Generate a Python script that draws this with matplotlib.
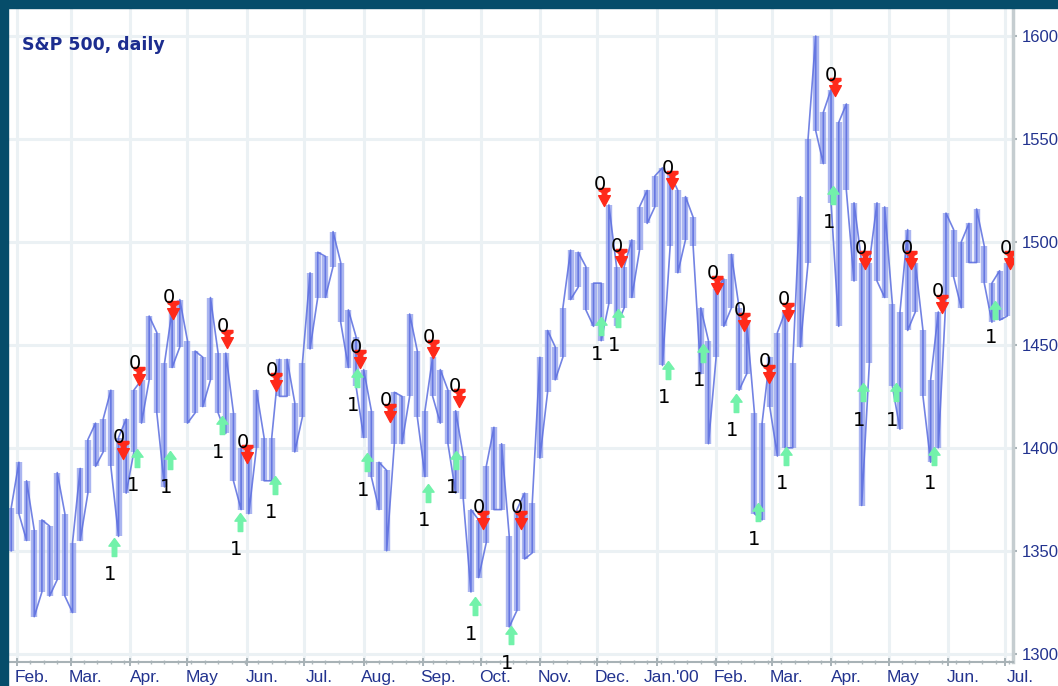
import matplotlib
matplotlib.use('Agg')
import matplotlib.pyplot as plt
import matplotlib.dates as mdates
import matplotlib.transforms as mtrans
from matplotlib.path import Path
from matplotlib.patches import Rectangle
import pandas as pd

# daily range of the S&P 500, sampled every 4 calendar days
bar_lows = [1350, 1368, 1355, 1318, 1330, 1328, 1336, 1328, 1320, 1355,
            1378, 1391, 1398, 1391, 1357, 1378, 1398, 1412, 1433, 1417,
            1381, 1439, 1449, 1412, 1417, 1420, 1433, 1417, 1407, 1384,
            1370, 1368, 1400, 1384, 1384, 1425, 1425, 1398, 1415, 1448,
            1473, 1473, 1488, 1461, 1439, 1430, 1405, 1386, 1370, 1350,
            1402, 1402, 1425, 1415, 1386, 1425, 1412, 1402, 1378, 1375,
            1330, 1337, 1354, 1370, 1370, 1313, 1321, 1346, 1349, 1395,
            1427, 1433, 1444, 1472, 1478, 1467, 1459, 1452, 1470, 1459,
            1468, 1473, 1496, 1509, 1517, 1440, 1498, 1485, 1501, 1498,
            1436, 1402, 1444, 1459, 1468, 1428, 1436, 1368, 1365, 1420,
            1396, 1400, 1400, 1449, 1490, 1554, 1538, 1519, 1459, 1525,
            1481, 1372, 1441, 1481, 1473, 1430, 1409, 1457, 1466, 1425,
            1393, 1400, 1473, 1483, 1468, 1490, 1490, 1480, 1461, 1462,
            1464]
bar_highs = [1371, 1393, 1384, 1360, 1365, 1362, 1388, 1368, 1354, 1390,
             1404, 1412, 1414, 1428, 1405, 1414, 1428, 1433, 1464, 1456,
             1441, 1467, 1472, 1452, 1447, 1444, 1473, 1446, 1446, 1417,
             1400, 1400, 1428, 1405, 1405, 1443, 1443, 1422, 1441, 1485,
             1495, 1493, 1505, 1490, 1467, 1454, 1438, 1418, 1393, 1389,
             1427, 1425, 1465, 1447, 1418, 1444, 1438, 1428, 1418, 1396,
             1370, 1365, 1391, 1410, 1402, 1357, 1370, 1378, 1373, 1444,
             1457, 1449, 1468, 1496, 1495, 1488, 1480, 1480, 1518, 1488,
             1488, 1501, 1517, 1525, 1532, 1536, 1533, 1525, 1522, 1512,
             1468, 1452, 1477, 1482, 1494, 1468, 1461, 1417, 1412, 1444,
             1456, 1466, 1441, 1522, 1550, 1600, 1563, 1574, 1558, 1567,
             1519, 1490, 1490, 1519, 1517, 1470, 1466, 1506, 1490, 1457,
             1433, 1466, 1514, 1506, 1500, 1509, 1516, 1498, 1480, 1486,
             1490]
bar_dates = pd.date_range('1999-01-29', periods=len(bar_lows), freq='4D')

# signals: days after 1 Feb 1999 and price level
sell_days = [55.4, 63.7, 81.5, 109.7, 120.1, 135.2, 179.1, 194.8, 217.2, 230.8,
             243.3, 263.2, 306.5, 315.4, 342.0, 365.5, 379.6, 392.7, 402.6, 427.2,
             442.8, 466.8, 483.0, 518.5]
sell_prices = [1399, 1435, 1467, 1453, 1397, 1432, 1443, 1417, 1448, 1424,
               1365, 1365, 1522, 1492, 1530, 1479, 1461, 1436, 1466, 1575,
               1491, 1491, 1470, 1491]
buy_days = [50.7, 62.7, 79.9, 107.0, 116.4, 134.7, 177.5, 182.8, 214.6, 229.2,
            239.1, 258.0, 305.0, 313.8, 340.0, 358.2, 375.5, 386.9, 401.6, 426.1,
            441.8, 459.0, 478.9, 510.7]
buy_prices = [1352, 1395, 1394, 1411, 1364, 1382, 1434, 1393, 1378, 1394,
              1323, 1309, 1459, 1463, 1438, 1446, 1422, 1369, 1396, 1523,
              1427, 1427, 1396, 1467]

month_labels = ['Feb.', 'Mar.', 'Apr.', 'May', 'Jun.', 'Jul.', 'Aug.', 'Sep.', 'Oct.',
                'Nov.', 'Dec.', "Jan.'00", 'Feb.', 'Mar.', 'Apr.', 'May', 'Jun.', 'Jul.']
month_starts = pd.date_range('1999-02-01', periods=len(month_labels), freq='MS')
price_ticks = [1300, 1350, 1400, 1450, 1500, 1550, 1600]

base = pd.Timestamp('1999-02-01')
sell_dates = [base + pd.Timedelta(days=d) for d in sell_days]
buy_dates = [base + pd.Timedelta(days=d) for d in buy_days]

teal = '#064d6a'
navy = '#22338f'
tickfont = ['Liberation Sans', 'DejaVu Sans']

fig = plt.figure(figsize=(10.58, 6.86), dpi=100, facecolor='white')
fig.patches.append(Rectangle((0, 0), 8 / 1058, 1, transform=fig.transFigure,
                             color=teal, zorder=0))
fig.patches.append(Rectangle((0, 678 / 686), 1, 8 / 686, transform=fig.transFigure,
                             color=teal, zorder=0))
ax = fig.add_axes([8 / 1058, 24 / 686, 1005 / 1058, 654 / 686])

# grid
for m in month_starts:
    ax.axvline(m, color='#ebf1f4', lw=2.2, zorder=0)
for p in price_ticks:
    ax.axhline(p, color='#ebf1f4', lw=2.2, zorder=0)

# band of the ranges, then a thin trace running up and down each bar
ax.vlines(bar_dates, bar_lows, bar_highs, color='#8e9dec', lw=4.6, alpha=0.75, zorder=2)
trace_x, trace_y = [], []
for i, (d, lo, hi) in enumerate(zip(bar_dates, bar_lows, bar_highs)):
    trace_x += [d, d]
    trace_y += [lo, hi] if i % 2 == 0 else [hi, lo]
ax.plot(trace_x, trace_y, color='#5a6ddf', lw=1.2, alpha=0.85, zorder=3)

down_arrow = Path([(-0.6, 1), (0.6, 1), (0.6, 0.75), (0.25, 0.55), (0.25, 0.2),
                   (0.65, 0.2), (0, -1), (-0.65, 0.2), (-0.25, 0.2), (-0.25, 0.55),
                   (-0.6, 0.75), (-0.6, 1)])
up_arrow = Path([(0, 1), (0.62, 0.15), (0.25, 0.15), (0.25, -1), (-0.25, -1),
                 (-0.25, 0.15), (-0.62, 0.15), (0, 1)])

ax.plot(sell_dates, sell_prices, ls='none', marker=down_arrow, markersize=13,
        color='#ff2a1a', mec='#ff2a1a', zorder=4)
ax.plot(buy_dates, buy_prices, ls='none', marker=up_arrow, markersize=13,
        color='#72f2aa', mec='#72f2aa', zorder=4)
for d, p in zip(sell_dates, sell_prices):
    ax.annotate('0', (d, p), xytext=(-2.9, 8.6), textcoords='offset points',
                ha='center', va='center', fontsize=14, color='black', zorder=5)
for d, p in zip(buy_dates, buy_prices):
    ax.annotate('1', (d, p), xytext=(-2.9, -20), textcoords='offset points',
                ha='center', va='center', fontsize=14, color='black', zorder=5)

ax.text(0.014, 0.944, 'S&P 500, daily', transform=ax.transAxes, fontsize=12.5,
        fontweight='bold', color='#1c2d8f', ha='left', va='center')

ax.set_xlim(base - pd.Timedelta(days=4.7), base + pd.Timedelta(days=520))
ax.set_ylim(1296, 1613.6)

ax.yaxis.tick_right()
ax.set_yticks(price_ticks)
ax.set_yticklabels([str(p) for p in price_ticks], family=tickfont, fontsize=12, color=navy)
ax.tick_params(axis='y', length=3, width=1.5, color='#aab4b8', pad=3)

ax.set_xticks(month_starts)
ax.set_xticklabels(month_labels, family=tickfont, fontsize=12.5, color=navy)
ax.xaxis.set_minor_locator(mdates.WeekdayLocator(byweekday=mdates.MO))
ax.tick_params(axis='x', which='major', direction='inout', length=6, width=1.2,
               color='#9aa6ab', pad=3)
ax.tick_params(axis='x', which='minor', direction='inout', length=3, width=1,
               color='#b0babe')
shift = mtrans.ScaledTranslation(15 / 100, 0, fig.dpi_scale_trans)
for lab in ax.get_xticklabels():
    lab.set_transform(lab.get_transform() + shift)

for s in ['top', 'left']:
    ax.spines[s].set_visible(False)
ax.spines['bottom'].set_color('#a8b2b6')
ax.spines['bottom'].set_linewidth(1.5)
ax.spines['right'].set_color('#c5cdd0')
ax.spines['right'].set_linewidth(2.5)

fig.savefig('out.png', dpi=100, facecolor='white')
